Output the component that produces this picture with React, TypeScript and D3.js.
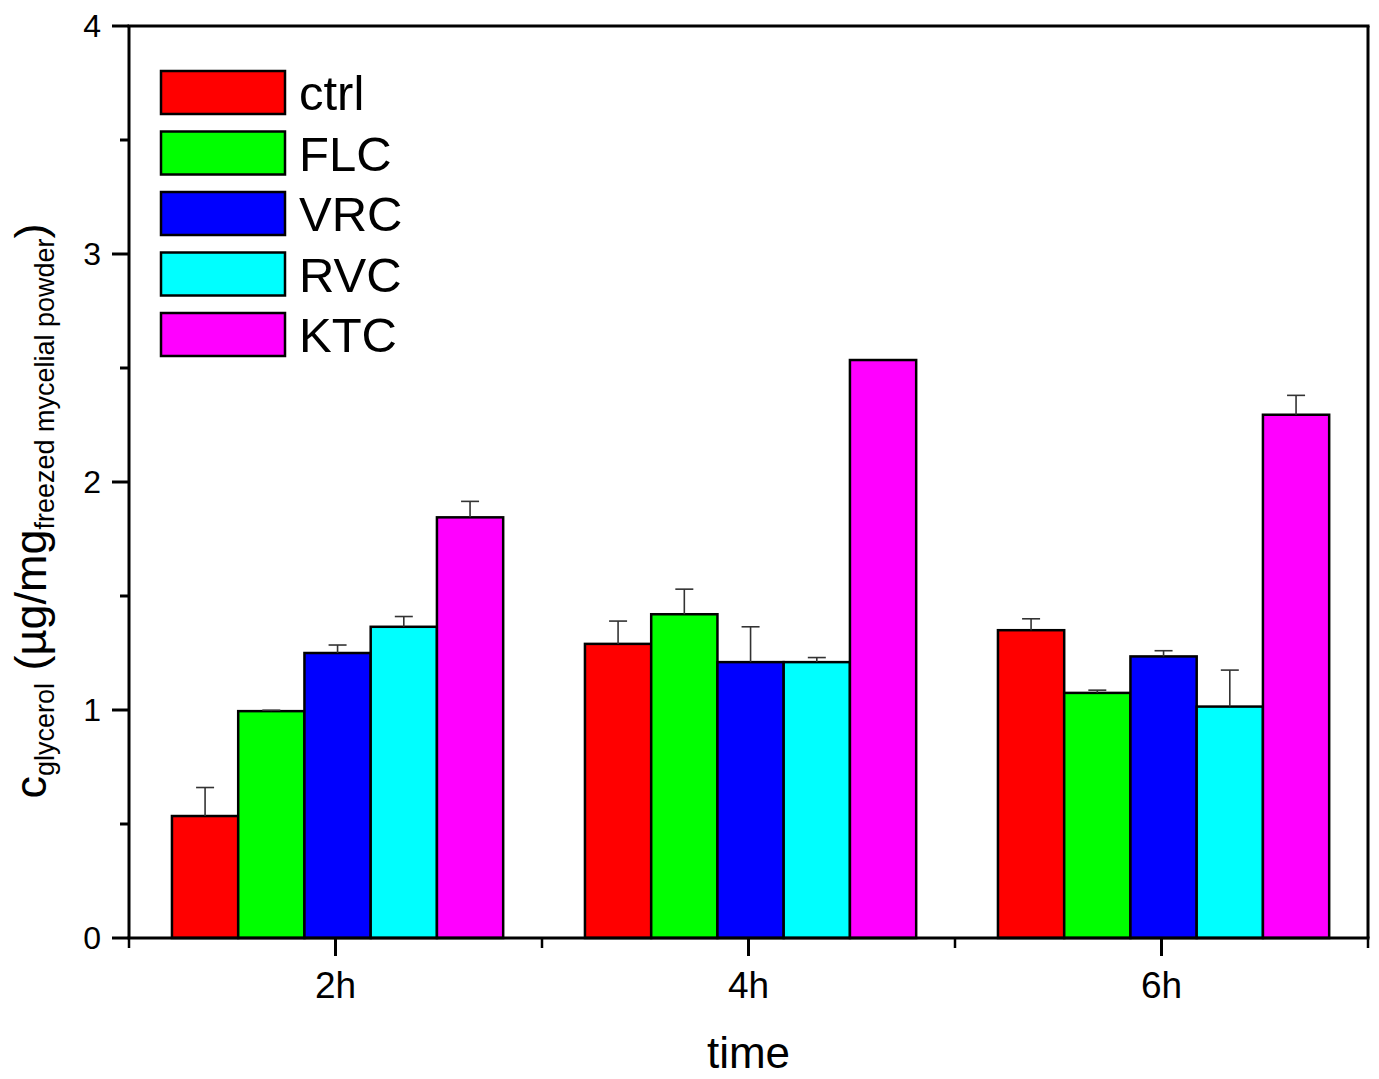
import React from "react";
import * as d3 from "d3";

const categories = ["2h", "4h", "6h"];
const seriesNames = ["ctrl", "FLC", "VRC", "RVC", "KTC"];
const seriesColors = ["#ff0000", "#00ff00", "#0000ff", "#00ffff", "#ff00ff"];
// values per series, per category
const ctrlValues = [0.535, 1.29, 1.35];
const flcValues = [0.995, 1.42, 1.075];
const vrcValues = [1.25, 1.21, 1.235];
const rvcValues = [1.365, 1.21, 1.015];
const ktcValues = [1.845, 2.535, 2.295];
const ctrlErr = [0.125, 0.1, 0.05];
const flcErr = [0.004, 0.11, 0.012];
const vrcErr = [0.035, 0.155, 0.025];
const rvcErr = [0.045, 0.02, 0.16];
const ktcErr = [0.07, 0, 0.085];
const yTicks = [0, 1, 2, 3, 4];
const yMinorTicks = [0.5, 1.5, 2.5, 3.5];

const allValues = [ctrlValues, flcValues, vrcValues, rvcValues, ktcValues];
const allErrs = [ctrlErr, flcErr, vrcErr, rvcErr, ktcErr];

const W = 1379;
const H = 1079;
const left = 129;
const right = 1368;
const top = 26;
const bottom = 938;
const FONT = "'Liberation Sans', Arial, sans-serif";

export default function App() {
  const x = d3.scaleBand<string>().domain(categories).range([left, right]).padding(0);
  const inner = d3
    .scaleBand<string>()
    .domain(seriesNames)
    .range([x.bandwidth() * 0.104, x.bandwidth() * 0.906])
    .padding(0);
  const y = d3.scaleLinear().domain([0, 4]).range([bottom, top]);
  const boundaries = [...categories.map((c) => x(c)!), right];

  return (
    <svg
      width={W}
      height={H}
      style={{ position: "absolute", left: 0, top: 0, background: "#fff" }}
      fontFamily={FONT}
    >
      <rect x={0} y={0} width={W} height={H} fill="#fff" />
      {/* bars */}
      {categories.map((c, ci) =>
        seriesNames.map((s, si) => {
          const v = allValues[si][ci];
          const bx = x(c)! + inner(s)!;
          const bw = inner.bandwidth();
          return (
            <rect
              key={c + s}
              x={bx}
              y={y(v)}
              width={bw}
              height={y(0) - y(v)}
              fill={seriesColors[si]}
              stroke="#000"
              strokeWidth={2.5}
            />
          );
        })
      )}
      {/* error bars */}
      {categories.map((c, ci) =>
        seriesNames.map((s, si) => {
          const v = allValues[si][ci];
          const e = allErrs[si][ci];
          if (e <= 0) return null;
          const cx = x(c)! + inner(s)! + inner.bandwidth() / 2;
          return (
            <g key={"e" + c + s} stroke="#333" strokeWidth={1.6}>
              <line x1={cx} x2={cx} y1={y(v)} y2={y(v + e)} />
              <line x1={cx - 9} x2={cx + 9} y1={y(v + e)} y2={y(v + e)} />
            </g>
          );
        })
      )}
      {/* frame */}
      <line x1={left} x2={left} y1={top} y2={bottom} stroke="#000" strokeWidth={3} />
      <line x1={right} x2={right} y1={top} y2={bottom} stroke="#000" strokeWidth={3} />
      <line x1={left - 1.5} x2={right + 1.5} y1={top} y2={top} stroke="#000" strokeWidth={3} />
      <line x1={left - 1.5} x2={right + 1.5} y1={bottom} y2={bottom} stroke="#000" strokeWidth={3} />
      {/* y ticks */}
      {yTicks.map((t) => (
        <g key={"yt" + t}>
          <line x1={left - 17} x2={left} y1={y(t)} y2={y(t)} stroke="#000" strokeWidth={3} />
          <text
            x={left - 28}
            y={y(t)}
            textAnchor="end"
            dominantBaseline="central"
            fontSize={32}
            fill="#000"
          >
            {t}
          </text>
        </g>
      ))}
      {yMinorTicks.map((t) => (
        <line key={"ym" + t} x1={left - 9} x2={left} y1={y(t)} y2={y(t)} stroke="#000" strokeWidth={3} />
      ))}
      {/* x ticks */}
      {categories.map((c) => {
        const cx = x(c)! + x.bandwidth() / 2;
        return (
          <g key={"xt" + c}>
            <line x1={cx} x2={cx} y1={bottom} y2={bottom + 18} stroke="#000" strokeWidth={3} />
            <text x={cx} y={998} textAnchor="middle" fontSize={37} fill="#000">
              {c}
            </text>
          </g>
        );
      })}
      {boundaries.map((b, i) => (
        <line key={"xm" + i} x1={b} x2={b} y1={bottom} y2={bottom + 10} stroke="#000" strokeWidth={2.5} />
      ))}
      {/* axis titles */}
      <text x={(left + right) / 2} y={1068} textAnchor="middle" fontSize={44} fill="#000">
        time
      </text>
      <text
        transform={`translate(46, 511) rotate(-90)`}
        textAnchor="middle"
        fontSize={45}
        fill="#000"
      >
        <tspan>c</tspan>
        <tspan fontSize={27} dy={8}>glycerol</tspan>
        <tspan dy={-8}> (µg/mg</tspan>
        <tspan fontSize={27} dy={8}>freezed mycelial powder</tspan>
        <tspan dy={-8}>)</tspan>
      </text>
      {/* legend */}
      {seriesNames.map((s, i) => {
        const ly = 71 + i * 60.5;
        return (
          <g key={"lg" + s}>
            <rect x={161} y={ly} width={124} height={43} fill={seriesColors[i]} stroke="#000" strokeWidth={2.5} />
            <text x={299} y={ly + 39} fontSize={49} fill="#000">
              {s}
            </text>
          </g>
        );
      })}
    </svg>
  );
}
